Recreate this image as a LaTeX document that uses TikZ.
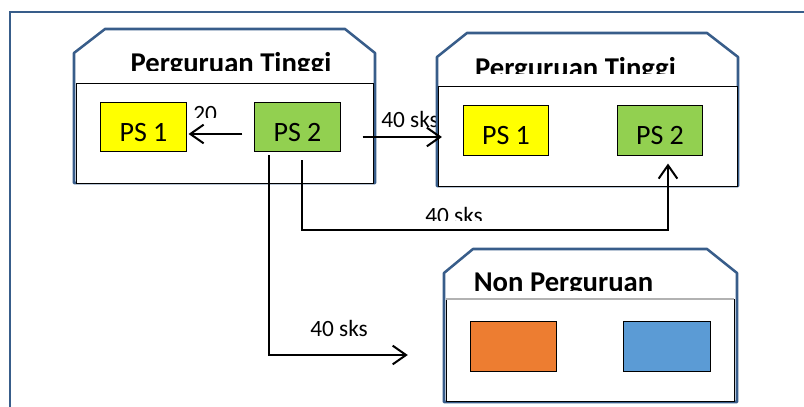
\documentclass[tikz,border=0pt]{standalone}
\usepackage{fontspec}
\setmainfont{Carlito}
\usetikzlibrary{arrows.meta,calc}

\definecolor{frameblue}{RGB}{56,93,138}
\definecolor{psyellow}{RGB}{255,255,0}
\definecolor{psgreen}{RGB}{146,208,80}
\definecolor{nporange}{RGB}{237,125,49}
\definecolor{npblue}{RGB}{91,155,213}

\tikzset{
  wadah/.style={draw=frameblue,line width=1.9pt,fill=white,line join=round},
  isi/.style={draw=black,line width=0.6pt,fill=white},
  prodi/.style={draw=black,line width=0.6pt,minimum width=64pt,minimum height=37pt,inner sep=0pt,text height=21pt,text depth=0pt,font=\fontsize{21}{25}\selectfont},
  judul/.style={font=\bfseries\fontsize{21.5}{25}\selectfont,anchor=base,inner sep=0pt},
  sks/.style={font=\fontsize{17.5}{21}\selectfont,anchor=base west,inner sep=0pt},
  alur/.style={line width=1.5pt,-{Straight Barb[length=10pt,width=14pt]}}
}

\begin{document}
\begin{tikzpicture}[x=0.75pt,y=-0.75pt]
    \useasboundingbox (0,0) rectangle (804,407);
    \draw[frameblue,line width=2.2pt] (10,407) -- (10,12) -- (804,12);

    % Perguruan Tinggi (kiri)
    \draw[wadah] (74,183) -- (74,53) -- (105,29) -- (345,29) -- (375,53) -- (375,183) -- cycle;
    \begin{scope}
      \clip (74,20) rectangle (375,70);
      \node[judul] (judulA) at (231,72) {Perguruan Tinggi};
    \end{scope}
    \draw[isi] (76,83) rectangle (373,183);
    \node[prodi,fill=psyellow] (ps1a) at (143.5,127) {PS 1};
    \node[prodi,fill=psgreen] (ps2a) at (297.5,127) {PS 2};

    \begin{scope}
      \clip (185,95) rectangle (230,117);
      \node[sks] (lbl20) at (193,121) {20};
    \end{scope}
    \node[sks] (lblB) at (381,127) {40 sks};

    % Perguruan Tinggi (kanan)
    \draw[wadah] (437,186) -- (437,57) -- (467,33) -- (707,33) -- (738,57) -- (738,186) -- cycle;
    \begin{scope}
      \clip (437,25) rectangle (738,73);
      \node[judul] (judulB) at (575.5,77) {Perguruan Tinggi};
    \end{scope}
    \draw[isi] (438,86) rectangle (737,186);
    \node[prodi,fill=psyellow] (ps1b) at (506,130.5) {PS 1};
    \node[prodi,fill=psgreen] (ps2b) at (660,130.5) {PS 2};

    % Non Perguruan
    \draw[wadah] (444,402) -- (444,273) -- (473,249) -- (707,249) -- (737,273) -- (737,402) -- cycle;
    \begin{scope}
      \clip (444,240) rectangle (737,290);
      \node[judul] (judulC) at (563.5,291) {Non Perguruan};
    \end{scope}
    \draw[isi] (446,299) rectangle (734,401);
    \draw[gray!60,line width=0.8pt] (446,299) -- (734,299);
    \node[prodi,fill=nporange,minimum width=65pt] (oranye) at (513.5,346.5) {};
    \node[prodi,fill=npblue,minimum width=65pt] (biru) at (667,346.5) {};

    % alur sks
    \begin{scope}
      \clip (400,195) rectangle (500,220);
      \node[sks] (lblC) at (425,223) {40 sks};
    \end{scope}
    \node[sks] (lblD) at (310,336) {40 sks};

    \draw[alur] ($(ps2a.west)+(-12,7)$) -- ($(ps1a.east)+(2,7)$);
    \draw[alur] ($(ps2a.east)+(22,10)$) -- ($(ps1b.west)+(-21,6.5)$);
    \draw[alur] ($(ps2a.south)+(4.5,8)$) -- ++(0,70) -| ($(ps2b.south)+(8,8)$);
    \draw[alur] ($(ps2a.south)+(-28.5,3)$) |- ($(oranye.west)+(-62,8.5)$);

  \end{tikzpicture}
\end{document}
